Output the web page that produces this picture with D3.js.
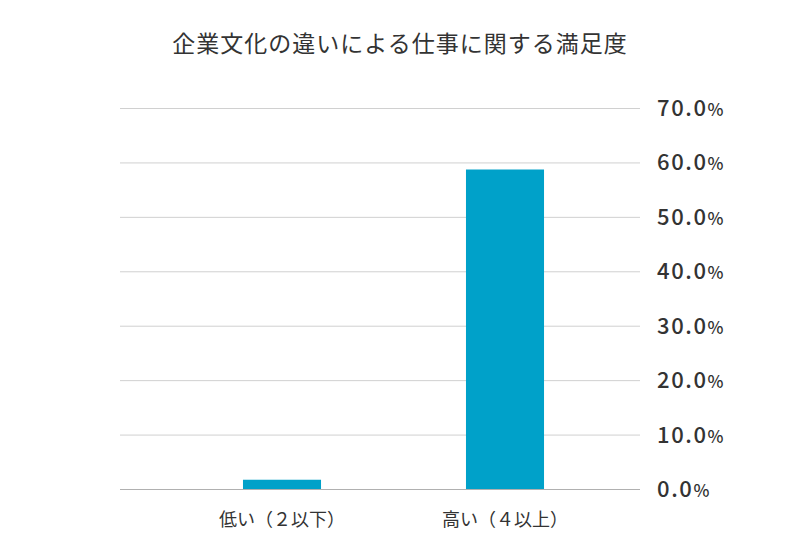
<!DOCTYPE html>
<html><head><meta charset="utf-8">
<script src="https://cdn.jsdelivr.net/npm/d3@7"></script>
<style>body{margin:0;background:#fff}svg{display:block}text{font-family:"Noto Sans CJK JP","Noto Sans",sans-serif}</style>
</head><body>
<svg id="c" width="800" height="560"></svg>
<script>
const title = "企業文化の違いによる仕事に関する満足度";
const categories = ["低い（２以下）", "高い（４以上）"];
const values = [1.7, 58.7];
const yTicks = [0, 10, 20, 30, 40, 50, 60, 70];

const svg = d3.select("#c");
const y = d3.scaleLinear().domain([0, 70]).range([489, 108]);
const x = d3.scaleBand().domain(categories).range([170.5, 616.5]).paddingInner(0.65).paddingOuter(0.325);

svg.append("text").attr("x", 400).attr("y", 52).attr("text-anchor", "middle")
  .attr("font-size", 23).attr("letter-spacing", 1).attr("fill", "#333").text(title);

const g = svg.append("g");
g.selectAll("line.grid").data(yTicks).join("line")
  .attr("x1", 120).attr("x2", 640)
  .attr("y1", d => y(d) + 0.5).attr("y2", d => y(d) + 0.5)
  .attr("stroke", d => d === 0 ? "#b0b0b0" : "#d0d0d0").attr("stroke-width", 1);

const lab = g.selectAll("text.tick").data(yTicks).join("text")
  .attr("x", 657).attr("y", d => y(d) + 8)
  .attr("font-size", 22).attr("font-weight", 500).attr("letter-spacing", 1.6).attr("fill", "#333");
lab.append("tspan").text(d => d.toFixed(1));
lab.append("tspan").attr("font-size", 17).text("%");

g.selectAll("rect").data(values).join("rect")
  .attr("x", (d, i) => x(categories[i])).attr("width", x.bandwidth())
  .attr("y", d => y(d)).attr("height", d => y(0) - y(d))
  .attr("fill", "#00a1c9");

g.selectAll("text.cat").data(categories).join("text")
  .attr("x", d => x(d) + x.bandwidth() / 2).attr("y", 526)
  .attr("text-anchor", "middle").attr("font-size", 18).attr("fill", "#333")
  .text(d => d);
</script>
</body></html>
